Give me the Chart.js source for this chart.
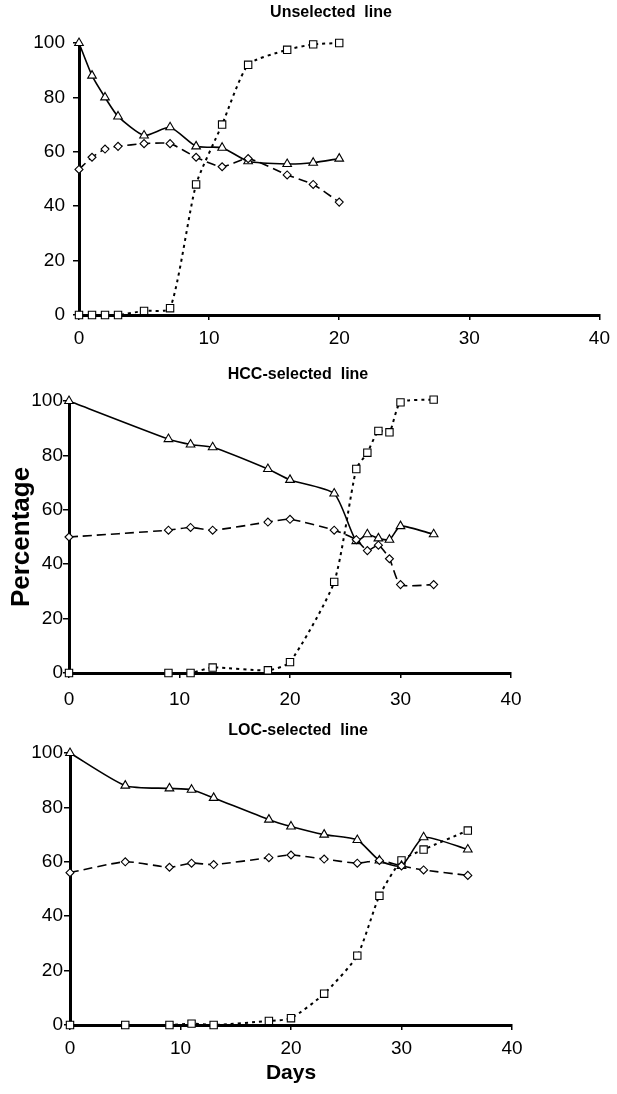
<!DOCTYPE html>
<html>
<head>
<meta charset="utf-8">
<script src="https://cdn.jsdelivr.net/npm/chart.js@4.4.0/dist/chart.umd.min.js"></script>
<style>
  html, body { margin: 0; padding: 0; background: #fff; }
  .panel { position: absolute; left: 0; width: 617px; }
</style>
</head>
<body>
<div class="panel" style="top:0;height:350px"><canvas id="unsel"></canvas></div>
<div class="panel" style="top:350px;height:365px"><canvas id="hcc"></canvas></div>
<div class="panel" style="top:715px;height:379px"><canvas id="loc"></canvas></div>
<script>
// values (percent vs days)
const unselDays = [0, 1, 2, 3, 5, 7, 9, 11, 13, 16, 18, 20];
const unselTriangle = [100, 88, 80, 73, 66, 69, 62, 61.5, 56.5, 55.5, 56, 57.5];
const unselDiamond = [53.5, 58, 61, 62, 63, 63, 58, 54.5, 57.5, 51.5, 48, 41.5];
const unselSquare = [0, 0, 0, 0, 1.5, 2.5, 48, 70, 92, 97.5, 99.5, 100];

const hccDays = [0, 9, 11, 13, 18, 20, 24, 26, 27, 28, 29, 30, 33];
const hccTriangle = [100, 86, 84, 83, 75, 71, 66, 48.5, 51, 49.5, 49, 54, 51];
const hccDiamond = [50, 52.5, 53.5, 52.5, 55.5, 56.5, 52.5, 49, 45, 47, 42, 32.5, 32.5];
const hccSquare = [0, 0, 0, 2, 1, 4, 33.5, 75, 81, 89, 88.5, 99.5, 100.5];

const locDays = [0, 5, 9, 11, 13, 18, 20, 23, 26, 28, 30, 32, 36];
const locTriangle = [100, 88, 87, 86.5, 83.5, 75.5, 73, 70, 68, 60.5, 58.5, 69, 64.5];
const locDiamond = [56, 60, 58, 59.5, 59, 61.5, 62.5, 61, 59.5, 60.5, 58.5, 57, 55];
const locSquare = [0, 0, 0, 0.5, 0, 1.5, 2.5, 11.5, 25.5, 47.5, 60.5, 64.5, 71.5];

const xTicks = [0, 10, 20, 30, 40];
const yTicks = [0, 20, 40, 60, 80, 100];

const FONT = "'Liberation Sans', Arial, sans-serif";

// panel heading drawn at a fixed spot
const panelTitle = {
  id: "panelTitle",
  afterDraw(chart, args, opts) {
    const ctx = chart.ctx;
    ctx.save();
    ctx.font = "bold 16px " + FONT;
    ctx.fillStyle = "#000";
    ctx.textAlign = "center";
    ctx.textBaseline = "middle";
    ctx.fillText(opts.text, opts.x, opts.y);
    ctx.restore();
  }
};

function series(days, vals, pointStyle, radius, dash, width) {
  return {
    data: days.map((d, i) => ({ x: d, y: vals[i] })),
    borderColor: "#000",
    borderWidth: width,
    borderDash: dash,
    tension: 0.2,
    pointStyle: pointStyle,
    pointRadius: radius,
    pointBorderWidth: 1.1,
    pointBorderColor: "#000",
    pointBackgroundColor: "#fff",
    clip: false
  };
}

function makePanel(id, p) {
  new Chart(document.getElementById(id), {
    type: "line",
    data: {
      datasets: [
        series(p.days, p.diamond, "rectRot", 4, [9, 5], 1.6),
        series(p.days, p.triangle, "triangle", 5, [], 1.6),
        series(p.days, p.square, "rect", 5.2, [3, 4], 2)
      ]
    },
    options: {
      responsive: true,
      maintainAspectRatio: false,
      animation: false,
      layout: { padding: p.pad },
      plugins: {
        legend: { display: false },
        tooltip: { enabled: false },
        panelTitle: { text: p.title, x: p.titleX, y: p.titleY }
      },
      scales: {
        x: {
          type: "linear",
          min: 0,
          max: 40,
          afterFit: s => { s.height = p.xHeight; },
          afterBuildTicks: s => { s.ticks = xTicks.map(v => ({ value: v })); },
          border: { display: true, color: "#000", width: 3 },
          grid: { drawOnChartArea: false, drawTicks: true, tickLength: 5, color: "#000", lineWidth: 1.5 },
          ticks: { color: "#000", padding: p.xPad, maxRotation: 0, font: { family: FONT, size: 19 } },
          title: {
            display: !!p.xTitle,
            text: p.xTitle || "",
            color: "#000",
            padding: { top: 0, bottom: 8 },
            font: { family: FONT, size: 21, weight: "bold" }
          }
        },
        y: {
          min: 0,
          max: 100,
          afterFit: s => { s.width = p.yWidth; },
          afterBuildTicks: s => { s.ticks = yTicks.map(v => ({ value: v })); },
          border: { display: true, color: "#000", width: 3 },
          grid: { drawOnChartArea: false, drawTicks: true, tickLength: 6, color: "#000", lineWidth: 1.5 },
          ticks: { color: "#000", padding: p.yPad, font: { family: FONT, size: 19 } },
          title: {
            display: !!p.yTitle,
            text: p.yTitle || "",
            color: "#000",
            padding: { top: 6, bottom: 0 },
            font: { family: FONT, size: 26, weight: "bold" }
          }
        }
      }
    },
    plugins: [panelTitle]
  });
}

makePanel("unsel", {
  days: unselDays, triangle: unselTriangle, diamond: unselDiamond, square: unselSquare,
  title: "Unselected  line", titleX: 331, titleY: 13,
  pad: { top: 43, left: 15, right: 17, bottom: 0 },
  yWidth: 64, xHeight: 35, yPad: 8, xPad: 7
});

makePanel("hcc", {
  days: hccDays, triangle: hccTriangle, diamond: hccDiamond, square: hccSquare,
  title: "HCC-selected  line", titleX: 298, titleY: 25,
  pad: { top: 51, left: 0, right: 106, bottom: 2 },
  yWidth: 69, xHeight: 40, yPad: 0, xPad: 10, yTitle: "Percentage"
});

makePanel("loc", {
  days: locDays, triangle: locTriangle, diamond: locDiamond, square: locSquare,
  title: "LOC-selected  line", titleX: 298, titleY: 16,
  pad: { top: 38, left: 0, right: 105, bottom: 0 },
  yWidth: 70, xHeight: 69, yPad: 1, xPad: 7, xTitle: "Days"
});
</script>
</body>
</html>
